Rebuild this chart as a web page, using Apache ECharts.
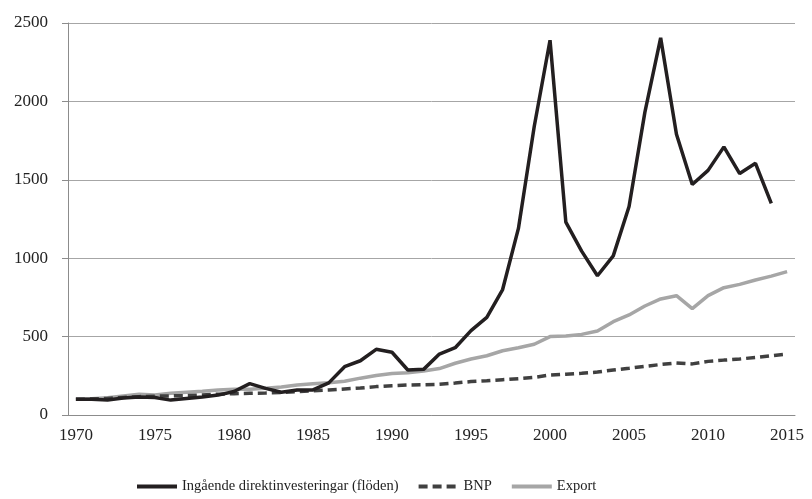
<!DOCTYPE html>
<html>
<head>
<meta charset="utf-8">
<script src="https://cdn.jsdelivr.net/npm/echarts@6/dist/echarts.min.js"></script>
<style>
  html, body { margin: 0; padding: 0; background: #fff; }
  #chart { width: 812px; height: 499px; }
</style>
</head>
<body>
<div id="chart"></div>
<script>
  // år 1970-2015
  var years = [];
  for (var y = 1970; y <= 2015; y++) years.push(String(y));

  // index, 1970 = 100
  var fdi = [100, 100, 95, 108, 115, 112, 95, 105, 115, 127,
             150, 200, 170, 145, 160, 160, 205, 308, 346, 419,
             400, 287, 291, 389, 429, 538, 623, 800, 1190, 1840,
             2390, 1230, 1045, 888, 1015, 1330, 1930, 2405, 1790, 1470,
             1560, 1710, 1540, 1605, 1350];
  var bnp = [100, 102, 106, 112, 117, 120, 122, 124, 128, 133,
             136, 138, 140, 143, 149, 155, 160, 166, 172, 181,
             187, 191, 193, 196, 204, 213, 218, 225, 232, 240,
             255, 260, 266, 274, 287, 298, 310, 322, 332, 326,
             342, 350, 357, 367, 378, 389];
  var exportVals = [100, 103, 110, 122, 132, 127, 138, 145, 152, 160,
             165, 165, 170, 178, 192, 200, 205, 215, 235, 252,
             265, 270, 280, 296, 330, 357, 378, 410, 429, 451,
             500, 504, 514, 536, 595, 638, 695, 740, 761, 678,
             761, 812, 833, 861, 886, 914];

  var yTicks = [0, 500, 1000, 1500, 2000, 2500];

  var font = '"Liberation Serif", "DejaVu Serif", serif';
  var chart = echarts.init(document.getElementById('chart'));
  chart.setOption({
    animation: false,
    grid: { left: 68, right: 17, top: 23, bottom: 84 },
    textStyle: { fontFamily: font },
    legend: {
      left: 130,
      bottom: 0,
      itemWidth: 40,
      itemHeight: 10,
      itemGap: 18,
      itemStyle: { opacity: 0 },
      lineStyle: { width: 4 },
      textStyle: { fontFamily: font, fontSize: 14.5, color: '#222' },
      data: ['Ingående direktinvesteringar (flöden)', 'BNP', 'Export']
    },
    xAxis: {
      type: 'category',
      data: years,
      boundaryGap: true,
      axisLine: { lineStyle: { color: '#8c8c8c', width: 1 } },
      axisTick: { interval: 0, length: 5, lineStyle: { color: '#8c8c8c' } },
      axisLabel: { interval: 4, margin: 12, fontSize: 17, color: '#222', fontFamily: font },
      splitLine: { show: false }
    },
    yAxis: {
      type: 'value',
      min: yTicks[0],
      max: yTicks[yTicks.length - 1],
      interval: 500,
      axisLine: { show: true, lineStyle: { color: '#8c8c8c', width: 1 } },
      axisTick: { show: true, length: 6, lineStyle: { color: '#8c8c8c' } },
      axisLabel: {
        margin: 20, fontSize: 17, color: '#222', fontFamily: font,
        formatter: function (v) { return String(v); }
      },
      splitLine: { lineStyle: { color: '#a6a6a6', width: 1 } }
    },
    series: [
      {
        name: 'Ingående direktinvesteringar (flöden)',
        type: 'line',
        data: fdi,
        symbol: 'none',
        itemStyle: { color: '#231f20' },
        lineStyle: { color: '#231f20', width: 3.5 },
        z: 3
      },
      {
        name: 'BNP',
        type: 'line',
        data: bnp,
        symbol: 'none',
        itemStyle: { color: '#404040' },
        lineStyle: { color: '#404040', width: 3.5, type: [9, 5] },
        z: 2
      },
      {
        name: 'Export',
        type: 'line',
        data: exportVals,
        symbol: 'none',
        itemStyle: { color: '#a6a6a6' },
        lineStyle: { color: '#a6a6a6', width: 3.5 },
        z: 1
      }
    ]
  });
</script>
</body>
</html>
